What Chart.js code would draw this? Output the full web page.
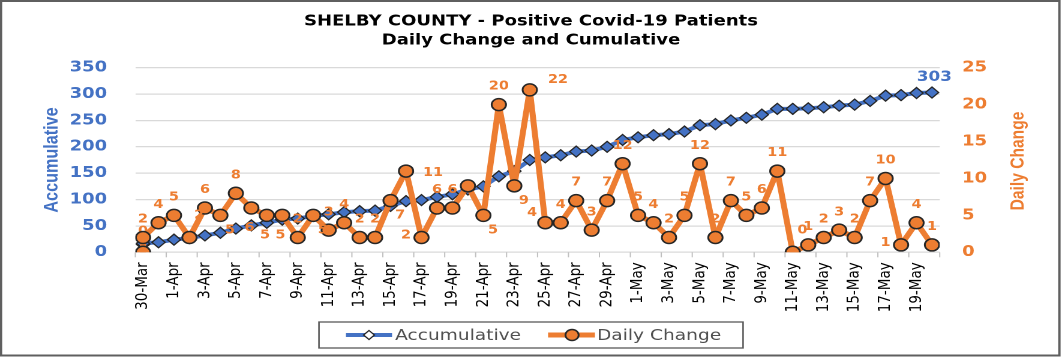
<!DOCTYPE html>
<html><head><meta charset="utf-8">
<script src="https://cdn.jsdelivr.net/npm/chart.js@4.4.1/dist/chart.umd.min.js"></script>
<style>
html,body{margin:0;padding:0;background:#fff;overflow:hidden}
#wrap{position:relative;width:1062px;height:357px;overflow:hidden;background:#fff}
#c{position:absolute;left:0;top:0;transform:scaleX(1.2);transform-origin:0 0}
</style></head><body>
<div id="wrap"><canvas id="c" width="885" height="357"></canvas></div>
<script>
// ---- data ----
const dates = ['30-Mar','30-Mar','31-Mar','1-Apr','2-Apr','3-Apr','4-Apr','5-Apr','6-Apr','7-Apr',
  '8-Apr','9-Apr','10-Apr','11-Apr','12-Apr','13-Apr','14-Apr','15-Apr','16-Apr','17-Apr',
  '18-Apr','19-Apr','20-Apr','21-Apr','22-Apr','23-Apr','24-Apr','25-Apr','26-Apr','27-Apr',
  '28-Apr','29-Apr','30-Apr','1-May','2-May','3-May','4-May','5-May','6-May','7-May',
  '8-May','9-May','10-May','11-May','12-May','13-May','14-May','15-May','16-May','17-May',
  '18-May','19-May','20-May'];
const cumulative = [15,17,19,24,27,32,37,45,51,56,
  62,64,69,72,76,78,79,88,97,99,
  105,110,119,125,144,154,175,180,184,191,
  193,200,213,218,222,224,229,241,243,250,
  255,261,272,272,273,275,278,280,287,297,
  298,302,303];
const dailyChange = [0,2,4,5,2,6,5,8,6,5,
  5,2,5,3,4,2,2,7,11,2,
  6,6,9,5,20,9,22,4,4,7,
  3,7,12,5,4,2,5,12,2,7,
  5,6,11,0,1,2,3,2,7,10,
  1,4,1];
const tickLabels = ['30-Mar','1-Apr','3-Apr','5-Apr','7-Apr','9-Apr','11-Apr','13-Apr','15-Apr','17-Apr',
  '19-Apr','21-Apr','23-Apr','25-Apr','27-Apr','29-Apr','1-May','3-May','5-May','7-May',
  '9-May','11-May','13-May','15-May','17-May','19-May'];
const titleLines = ['SHELBY COUNTY - Positive Covid-19 Patients', 'Daily Change and Cumulative'];
const seriesNames = ['Accumulative', 'Daily Change'];

// ---- style ----
const BLUE = '#4472C4', ORANGE = '#ED7D31', EDGE = '#262626', GRID = '#D9D9D9';
const labelPlacement = ['u','a','a','a','ar','a','br','a','b','b',
  'b','a','br','a','a','a','a','br','r','l',
  'a','a','n','br','a','br','ra','al','a','a',
  'a','a','a','a','a','a','a','a','a','a',
  'a','a','a','ar','a','a','a','a','a','a',
  'l','a','a'];
const OFFS = {a:[0,-18], u:[0,-21], b:[-1.5,20], br:[8,15], ar:[8,-22], r:[22.5,2], ra:[23.5,-10], l:[-13,-2], al:[-11,-10]};

const MONTHS = {Mar:2, Apr:3, May:4};
function dayNum(s){ const [d,m] = s.split('-'); return Date.UTC(2020, MONTHS[m], +d)/86400000; }
const day0 = dayNum(dates[0]);
const dayIdx = dates.map(s => dayNum(s) - day0);
const tickDays = tickLabels.map(s => dayNum(s) - day0);
const lastDay = dayIdx[dayIdx.length-1];

function drawDailyLabels(chart, under){
  const meta = chart.getDatasetMeta(0);
  const ctx = chart.ctx;
  ctx.save();
  ctx.font = 'bold 12px "DejaVu Sans"';
  ctx.fillStyle = ORANGE; ctx.textAlign = 'center'; ctx.textBaseline = 'middle';
  meta.data.forEach((pt, i) => {
    const code = labelPlacement[i];
    if (code === 'n') return;
    if ((code === 'u') !== under) return;
    const o = OFFS[code];
    ctx.fillText(String(dailyChange[i]), pt.x + o[0], pt.y + o[1]);
  });
  ctx.restore();
}

const custom = {
  id: 'custom',
  beforeDatasetsDraw(chart){ drawDailyLabels(chart, true); },
  afterDatasetsDraw(chart){
    drawDailyLabels(chart, false);
    const ctx = chart.ctx;
    const bm = chart.getDatasetMeta(1);
    const last = bm.data[bm.data.length-1];
    ctx.save();
    ctx.font = 'bold 14px "DejaVu Sans"';
    ctx.fillStyle = BLUE; ctx.textAlign = 'center'; ctx.textBaseline = 'middle';
    ctx.fillText(String(cumulative[cumulative.length-1]), last.x + 2, last.y - 15);
    ctx.restore();
  },
  afterDraw(chart){
    const ctx = chart.ctx;
    const xs = chart.scales.x, ca = chart.chartArea;
    ctx.save();
    // x tick marks between date groups
    ctx.strokeStyle = '#BFBFBF'; ctx.lineWidth = 1;
    for (let d = -0.5; d <= lastDay + 0.5; d += 2){
      const px = xs.getPixelForValue(d);
      ctx.beginPath(); ctx.moveTo(px, ca.bottom); ctx.lineTo(px, ca.bottom + 5); ctx.stroke();
    }
    // right axis title (reads bottom to top)
    ctx.save();
    ctx.translate(848.75, 161);
    ctx.rotate(-Math.PI/2);
    ctx.font = 'bold 15.6px "Liberation Sans"';
    ctx.fillStyle = ORANGE; ctx.textAlign = 'center'; ctx.textBaseline = 'middle';
    ctx.fillText('Daily Change', 0, 0);
    ctx.restore();
    // legend
    const ly = 335;
    ctx.strokeStyle = '#595959'; ctx.lineWidth = 1.3;
    ctx.strokeRect(265.8, 322, 353.4, 26);
    ctx.lineCap = 'butt';
    ctx.strokeStyle = BLUE; ctx.lineWidth = 4;
    ctx.beginPath(); ctx.moveTo(288.3, ly); ctx.lineTo(326.7, ly); ctx.stroke();
    ctx.fillStyle = '#fff'; ctx.strokeStyle = EDGE; ctx.lineWidth = 1.2;
    ctx.beginPath(); ctx.moveTo(307.5, ly-4.5); ctx.lineTo(312, ly); ctx.lineTo(307.5, ly+4.5); ctx.lineTo(303, ly); ctx.closePath();
    ctx.fill(); ctx.stroke();
    ctx.strokeStyle = ORANGE; ctx.lineWidth = 5;
    ctx.beginPath(); ctx.moveTo(456.7, ly); ctx.lineTo(495.8, ly); ctx.stroke();
    ctx.fillStyle = ORANGE; ctx.strokeStyle = EDGE; ctx.lineWidth = 1.5;
    ctx.beginPath(); ctx.arc(476.7, ly, 5.5, 0, Math.PI*2); ctx.fill(); ctx.stroke();
    ctx.font = '15.5px "DejaVu Sans"'; ctx.fillStyle = '#505050';
    ctx.textAlign = 'left'; ctx.textBaseline = 'middle';
    ctx.fillText(seriesNames[0], 329.2, ly + 1);
    ctx.fillText(seriesNames[1], 497.5, ly + 1);
    // outer frame
    ctx.strokeStyle = '#5F5F5F'; ctx.lineWidth = 2;
    ctx.strokeRect(0.8, 1, 882, 354.5);
    ctx.restore();
  }
};

new Chart(document.getElementById('c'), {
  type: 'line',
  data: {
    datasets: [
      {
        label: seriesNames[1],
        data: dayIdx.map((d, i) => ({x: d, y: dailyChange[i]})),
        yAxisID: 'y1', order: 0,
        borderColor: ORANGE, borderWidth: 5, tension: 0, borderJoinStyle: 'round', borderCapStyle: 'round',
        pointRadius: 6, pointBackgroundColor: ORANGE, pointBorderColor: EDGE, pointBorderWidth: 1.5
      },
      {
        label: seriesNames[0],
        data: dayIdx.map((d, i) => ({x: d, y: cumulative[i]})),
        yAxisID: 'y', order: 1,
        borderColor: BLUE, borderWidth: 4, tension: 0, borderJoinStyle: 'round',
        pointStyle: 'rectRot', pointRadius: 5.5, pointBackgroundColor: BLUE, pointBorderColor: EDGE, pointBorderWidth: 1.2
      }
    ]
  },
  options: {
    responsive: false, animation: false, devicePixelRatio: 2,
    layout: {padding: {left: 0, right: 0, top: 0, bottom: 43}},
    plugins: {
      legend: {display: false}, tooltip: {enabled: false},
      title: {display: true, text: titleLines, color: '#000',
        font: {family: 'DejaVu Sans', size: 15, weight: 'bold', lineHeight: '19px'},
        padding: {top: 12.2, bottom: 17.5}}
    },
    scales: {
      x: {
        type: 'linear', min: -0.5, max: lastDay + 0.5,
        afterBuildTicks: s => { s.ticks = tickDays.map(v => ({value: v})); },
        afterFit: s => { s.height = 61.7; },
        ticks: {autoSkip: false, maxRotation: 90, minRotation: 90, padding: 10, color: '#000',
          font: {family: 'DejaVu Sans', size: 13.5},
          callback: v => { const k = tickDays.indexOf(v); return k >= 0 ? tickLabels[k] : ''; }},
        grid: {display: false, drawTicks: false},
        border: {display: false}
      },
      y: {
        position: 'left', min: 0, max: 350,
        afterFit: s => { s.width = 112.75; },
        ticks: {stepSize: 50, padding: 23.5, color: BLUE, font: {family: 'DejaVu Sans', size: 15, weight: 'bold'}},
        grid: {color: GRID, lineWidth: 1.3, drawTicks: false},
        border: {display: false},
        title: {display: true, text: 'Accumulative', color: BLUE,
          font: {family: 'Liberation Sans', size: 16.2, weight: 'bold'}, padding: {top: 34, bottom: 0}}
      },
      y1: {
        position: 'right', min: 0, max: 25,
        afterFit: s => { s.width = 101.9; },
        ticks: {stepSize: 5, padding: 18.6, color: ORANGE, font: {family: 'DejaVu Sans', size: 15, weight: 'bold'}},
        grid: {display: false, drawTicks: false},
        border: {display: false}
      }
    }
  },
  plugins: [custom]
});
</script>
</body></html>
